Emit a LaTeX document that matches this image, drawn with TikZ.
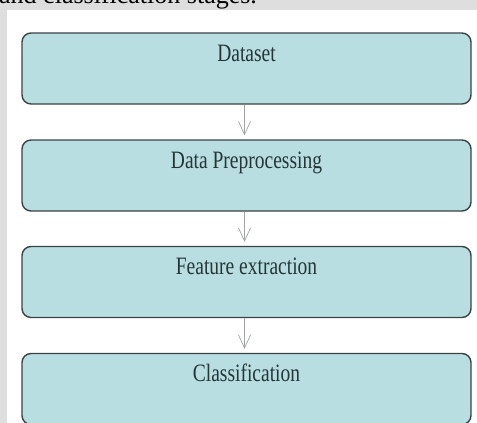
\documentclass[tikz,border=0pt]{standalone}
\usepackage{fontspec}
\setmainfont{Liberation Serif}
\usepackage{graphicx}
\usetikzlibrary{arrows.meta}
\definecolor{bggray}{HTML}{DEDEDE}
\definecolor{boxfill}{HTML}{B8DEE2}
\definecolor{boxline}{HTML}{3A4444}
\definecolor{txt}{HTML}{263636}
\definecolor{arrgray}{HTML}{A0A4A4}
\tikzset{
  stagebox/.style={draw=boxline, line width=1.4pt, fill=boxfill, rounded corners=9pt,
    minimum width=449pt, minimum height=71pt, inner sep=0pt},
  stagelabel/.style={anchor=base, inner sep=0pt, text=txt,
    font=\fontsize{25}{30}\selectfont},
  flowarrow/.style={draw=arrgray, line width=0.7pt,
    -{Straight Barb[length=13pt,width=12pt,line width=0.7pt]}, shorten >=4pt},
}
\newcommand{\cond}[1]{\scalebox{0.78}[1]{#1}}
\begin{document}
\begin{tikzpicture}[x=1pt,y=-1pt]
\useasboundingbox (0,0) rectangle (477,423);
\fill[bggray] (0,0) rectangle (477,423);
\fill[white] (7,10) rectangle (477,423);
\node[anchor=base west, inner sep=0pt, font=\fontsize{26}{30}\selectfont] (cap) at (-1,4) {and classification stages.};
\node[stagebox] (b1) at (246.5,68.5) {};
\node[stagebox] (b2) at (246.5,175.5) {};
\node[stagebox] (b3) at (246.5,282) {};
\node[stagebox] (b4) at (246.5,389) {};
\node[stagelabel] (t1) at ([yshift=-29pt]b1.north) {\cond{Dataset}};
\node[stagelabel] (t2) at ([yshift=-29pt]b2.north) {\cond{Data Preprocessing}};
\node[stagelabel] (t3) at ([yshift=-29pt]b3.north) {\cond{Feature extraction}};
\node[stagelabel] (t4) at ([yshift=-29pt]b4.north) {\cond{Classification}};
\draw[flowarrow] ([xshift=-2pt]b1.south) -- ([xshift=-2pt]b2.north);
\draw[flowarrow] ([xshift=-2pt]b2.south) -- ([xshift=-2pt]b3.north);
\draw[flowarrow] ([xshift=-2pt]b3.south) -- ([xshift=-2pt]b4.north);
\end{tikzpicture}
\end{document}
